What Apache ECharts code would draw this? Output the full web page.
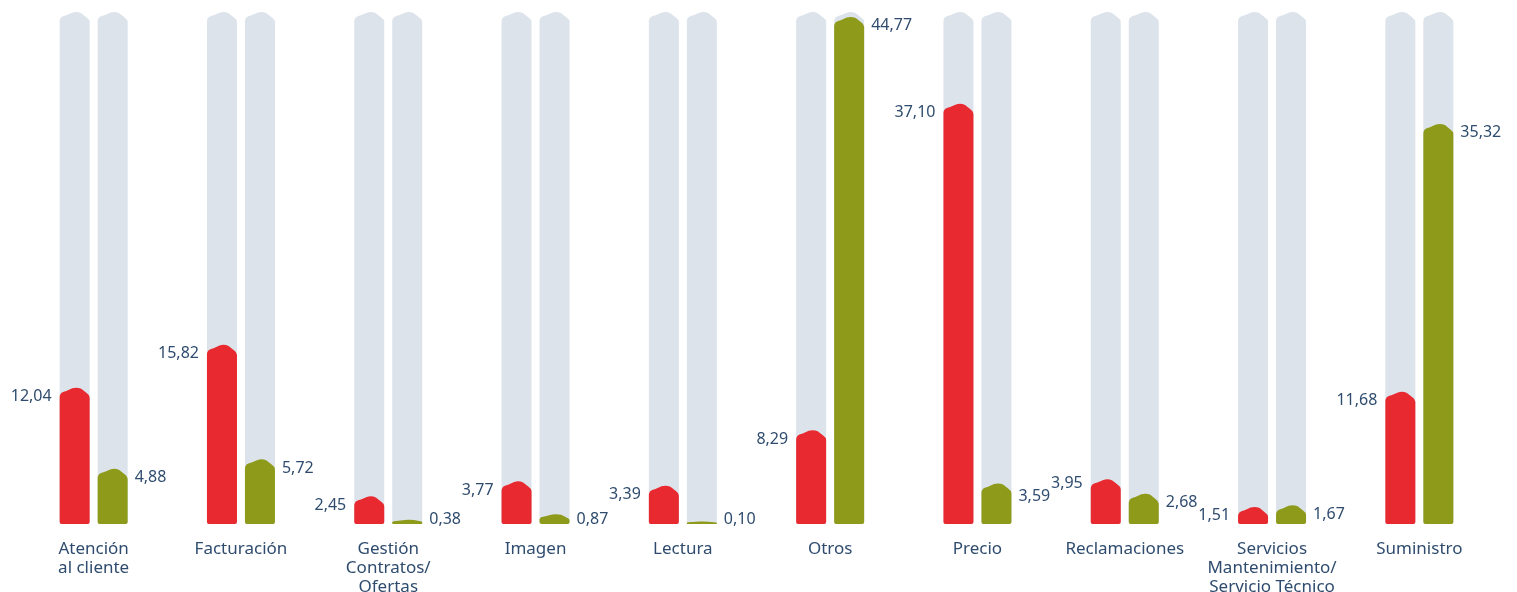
<!DOCTYPE html>
<html>
<head>
<meta charset="utf-8">
<script src="https://cdn.jsdelivr.net/npm/echarts@6/dist/echarts.min.js"></script>
<style>
  html, body { margin: 0; padding: 0; background: #fff; }
  #main { width: 1517px; height: 592px; }
</style>
</head>
<body>
<div id="main"></div>
<script>
// categorias
var categories = [
    'Atención\nal cliente', 'Facturación', 'Gestión\nContratos/\nOfertas', 'Imagen', 'Lectura',
    'Otros', 'Precio', 'Reclamaciones', 'Servicios\nMantenimiento/\nServicio Técnico', 'Suministro'
];
var redValues = [12.04, 15.82, 2.45, 3.77, 3.39, 8.29, 37.10, 3.95, 1.51, 11.68];
var greenValues = [4.88, 5.72, 0.38, 0.87, 0.10, 44.77, 3.59, 2.68, 1.67, 35.32];
var trackMax = 45.2;

var textColor = '#2f4c6e';

function fmt(v) {
    return v.toFixed(2).replace('.', ',');
}

// forma de la barra con la punta redondeada
function capPath(x0, w, yt, yb) {
    var h = yb - yt;
    var c = Math.min(10, h * 0.6);
    var r = Math.min(2, h * 0.2);
    var x1 = x0 + w;
    return 'M' + x0 + ' ' + (yb - r) +
        ' L' + x0 + ' ' + (yt + c) +
        ' C' + x0 + ' ' + (yt + c * 0.55) + ' ' + (x0 + w * 0.08) + ' ' + (yt + c * 0.45) + ' ' + (x0 + w * 0.2) + ' ' + (yt + c * 0.36) +
        ' L' + (x0 + w * 0.42) + ' ' + (yt + c * 0.07) +
        ' Q' + (x0 + w * 0.57) + ' ' + (yt - c * 0.08) + ' ' + (x0 + w * 0.72) + ' ' + (yt + c * 0.12) +
        ' L' + (x0 + w * 0.9) + ' ' + (yt + c * 0.55) +
        ' Q' + x1 + ' ' + (yt + c * 0.75) + ' ' + x1 + ' ' + (yt + c) +
        ' L' + x1 + ' ' + (yb - r) +
        ' Q' + x1 + ' ' + yb + ' ' + (x1 - r) + ' ' + yb +
        ' L' + (x0 + r) + ' ' + yb +
        ' Q' + x0 + ' ' + yb + ' ' + x0 + ' ' + (yb - r) + ' Z';
}

// posicion vertical de la etiqueta
function labelY(api, i, v) {
    var yb = api.coord([i, 0])[1];
    var yt = Math.min(api.coord([i, v])[1], yb - 2.5);
    return Math.min(yt + 9, yb - 5);
}

function makeSeries(name, values, color, offset, side) {
    return {
        name: name,
        type: 'custom',
        encode: { x: 0, y: 1 },
        data: values.map(function (v, i) { return [i, v]; }),
        renderItem: function (params, api) {
            var i = api.value(0), v = api.value(1);
            var base = api.coord([i, 0]);
            var top = api.coord([i, v]);
            var trackTop = api.coord([i, trackMax]);
            var w = 30;
            var x0 = base[0] + offset - w / 2;
            var yb = base[1];
            var yt = Math.min(top[1], yb - 2.5);
            var ly = labelY(api, i, v);
            // evitar que se pisen etiquetas vecinas
            if (side === 'left' && i > 0 && Math.abs(ly - labelY(api, i - 1, greenValues[i - 1])) < 10) {
                ly -= 5;
            }
            if (side === 'right' && i < values.length - 1 && Math.abs(ly - labelY(api, i + 1, redValues[i + 1])) < 10) {
                ly += 4;
            }
            return {
                type: 'group',
                children: [
                    { type: 'path', shape: { pathData: capPath(x0, w, trackTop[1], yb) }, style: { fill: '#dce3ea' } },
                    { type: 'path', shape: { pathData: capPath(x0, w, yt, yb) }, style: { fill: color } },
                    {
                        type: 'text',
                        style: {
                            text: fmt(v),
                            x: side === 'left' ? x0 - 8 : x0 + w + 7,
                            y: ly,
                            align: side === 'left' ? 'right' : 'left',
                            verticalAlign: 'middle',
                            fill: textColor,
                            fontSize: 16,
                            fontFamily: 'Noto Sans'
                        }
                    }
                ]
            };
        }
    };
}

var myChart = echarts.init(document.getElementById('main'));
var option = {
    animation: false,
    grid: { left: 20, top: 12, width: 1473, height: 512, outerBoundsMode: 'none', containLabel: false },
    xAxis: {
        type: 'category',
        data: categories,
        axisLine: { show: false },
        axisTick: { show: false },
        axisLabel: {
            interval: 0,
            color: textColor,
            fontSize: 17,
            fontFamily: 'Noto Sans',
            lineHeight: 19,
            margin: 16
        }
    },
    yAxis: {
        type: 'value',
        min: 0,
        max: trackMax,
        show: false
    },
    series: [
        makeSeries('rojo', redValues, '#e8292f', -19, 'left'),
        makeSeries('verde', greenValues, '#8e9b1a', 19, 'right')
    ]
};
myChart.setOption(option);
</script>
</body>
</html>
